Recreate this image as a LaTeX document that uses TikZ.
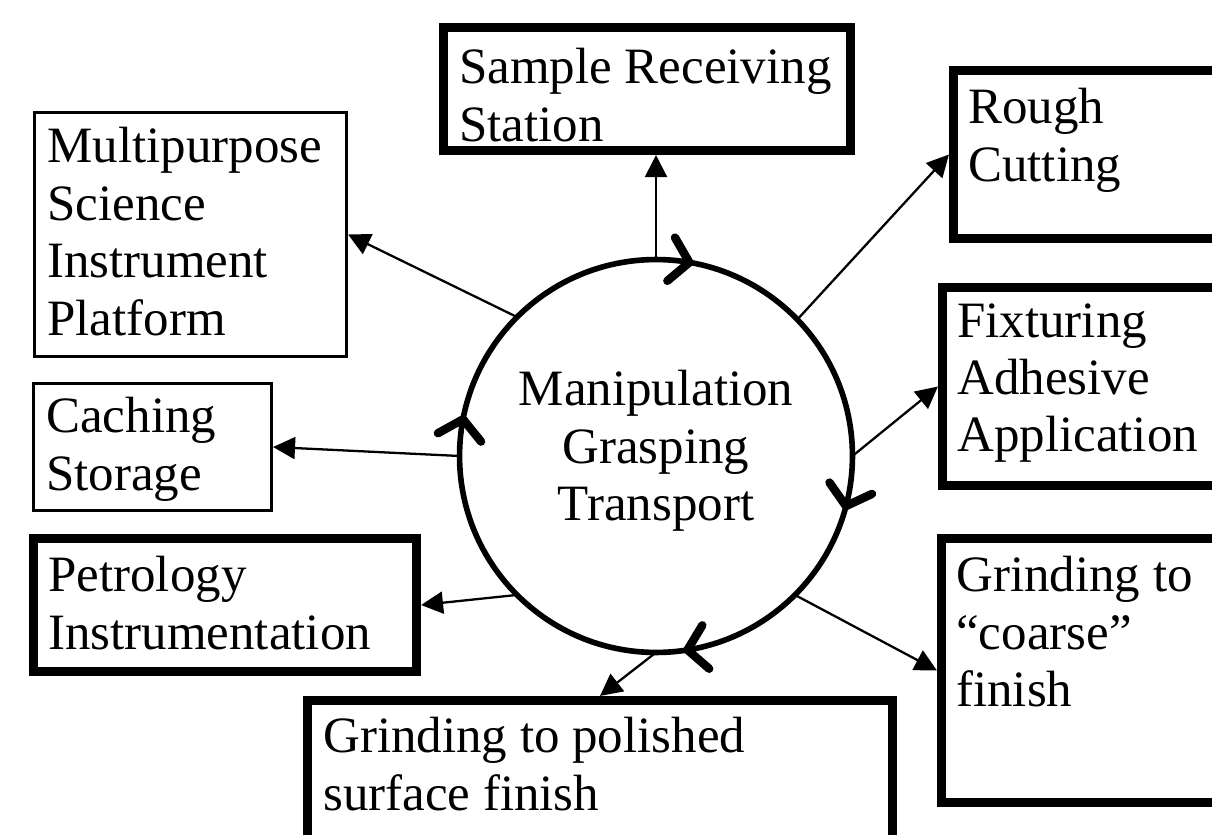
\documentclass[tikz,border=0pt]{standalone}
\usepackage{fontspec}
\setmainfont{Liberation Serif}
\usetikzlibrary{arrows.meta,fit}

\tikzset{
  thickbox/.style={draw, line width=5.2pt, inner sep=0pt},
  thinbox/.style={draw, line width=2pt, inner sep=0pt},
  lbl/.style={anchor=north west, inner sep=0pt, align=left, font=\fontsize{29}{32.7}\selectfont},
  hub/.style={circle, draw, line width=3.2pt, minimum size=7.86cm, inner sep=0pt, outer sep=0pt},
  link/.style={line width=1.3pt, -{Triangle[length=12.5pt,width=12.5pt]}},
  flow/.style={line width=4.8pt, -{Straight Barb[length=10.5pt,width=25pt,round]}}
}

\begin{document}
\begin{tikzpicture}[x=0.02cm,y=-0.02cm]
\useasboundingbox (0,0) rectangle (1212,834);
\clip (0,0) rectangle (1212,834);

\node[hub] (hub) at (656,456) {};
\node[lbl, anchor=north, align=center] (hubtxt) at (656,370) {Manipulation\\Grasping\\Transport};

\node[thickbox, fit={(443.5,27.5) (850.5,150.5)}] (sample) {};
\node[thinbox, fit={(34.7,112.7) (346.3,356.3)}] (multi) {};
\node[thinbox, fit={(33.7,383.7) (271.3,510.3)}] (cache) {};
\node[thickbox, fit={(33.5,538.5) (416.5,671.5)}] (petro) {};
\node[thickbox, fit={(307.5,700.5) (892.5,870)}] (polished) {};
\node[thickbox, fit={(953.5,70.5) (1240,238.5)}] (rough) {};
\node[thickbox, fit={(942.5,287.5) (1240,485.5)}] (fix) {};
\node[thickbox, fit={(941.5,538.5) (1240,802.5)}] (coarse) {};

\node[lbl] (sampletxt) at (459,48) {Sample Receiving\\Station};
\node[lbl] (multitxt) at (47,127) {Multipurpose\\Science\\Instrument\\Platform};
\node[lbl] (cachetxt) at (46,397) {Caching\\Storage};
\node[lbl] (petrotxt) at (48,556) {Petrology\\Instrumentation};
\node[lbl] (polishedtxt) at (323,717) {Grinding to polished\\surface finish};
\node[lbl] (roughtxt) at (968,88) {Rough\\Cutting};
\node[lbl] (fixtxt) at (957,303) {Fixturing\\Adhesive\\Application};
\node[lbl] (coarsetxt) at (956,556) {Grinding to\\``coarse''\\finish};

\draw[link] (hub.north) -- (hub.north |- sample.south);
\draw[link] (hub.44) -- (rough.west);
\draw[link] (hub.east) -- (fix.west);
\draw[link] (hub.south east) -- (coarse.west);
\draw[link] (hub.south) -- (polished.north);
\draw[link] (hub.south west) -- (petro.east);
\draw[link] (hub.west) -- (cache.east);
\draw[link] (hub.north west) -- (multi.east);

% clockwise marks on the ring
\foreach \a/\b in {81/79, 170/168, 280/278, 346/344}
  \draw[flow] (hub.\a) -- (hub.\b);
\end{tikzpicture}
\end{document}
